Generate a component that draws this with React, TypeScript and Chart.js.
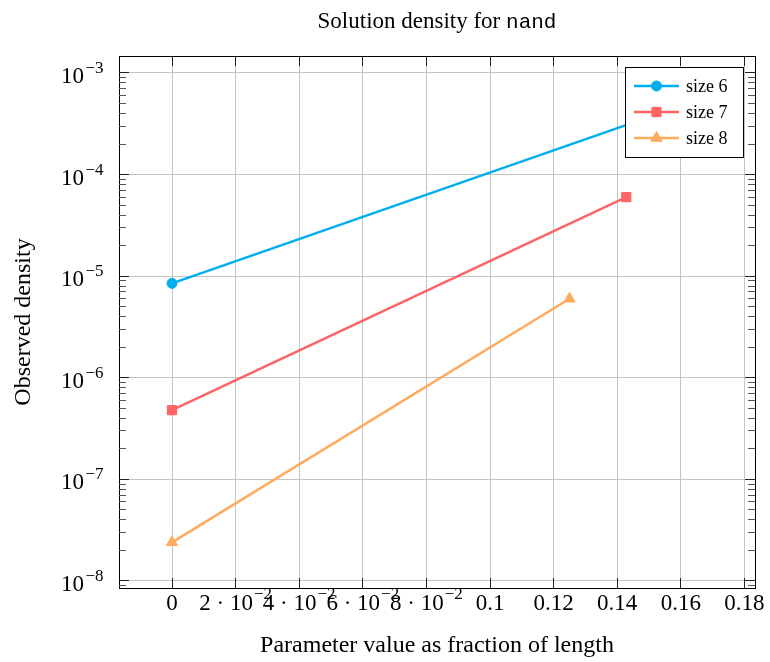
import React, { useEffect, useRef } from 'react';
import { Chart, registerables } from 'chart.js';

Chart.register(...registerables);

// ---------- data ----------
const seriesNames = ['size 6', 'size 7', 'size 8'];
const size6X = [0, 1 / 6];
const size6Y = [8.5e-6, 5.6e-4];
const size7X = [0, 1 / 7];
const size7Y = [4.8e-7, 6.0e-5];
const size8X = [0, 1 / 8];
const size8Y = [2.4e-8, 6.0e-6];

const xTickValues = [0, 0.02, 0.04, 0.06, 0.08, 0.1, 0.12, 0.14, 0.16, 0.18];
const xTickBase = ['0', '2 · 10', '4 · 10', '6 · 10', '8 · 10', '0.1', '0.12', '0.14', '0.16', '0.18'];
const xTickSup = ['', '−2', '−2', '−2', '−2', '', '', '', '', ''];
const yTickValues = [1e-8, 1e-7, 1e-6, 1e-5, 1e-4, 1e-3];
const yTickBase = ['10', '10', '10', '10', '10', '10'];
const yTickSup = ['−8', '−7', '−6', '−5', '−4', '−3'];

const titleText = 'Solution density for ';
const titleMono = 'nand';
const xTitle = 'Parameter value as fraction of length';
const yTitle = 'Observed density';

// ---------- style ----------
const COLORS = ['#00AEEF', '#FF6464', '#FFAA5C'];
const STYLES = ['circle', 'rect', 'triangle'];
const RADII = [5, 6.5, 6.5];
const GRID = '#c4c4c4';
const SERIF = '"Liberation Serif", "Times New Roman", serif';
const MONO = '"Liberation Mono", "DejaVu Sans Mono", monospace';
const X_MIN = -1 / 60;
const X_MAX = 1 / 6 + 1 / 60;
const Y_MIN = Math.pow(10, -8.0689);
const Y_MAX = Math.pow(10, -2.8327);

function align(p: number) {
  return Math.round(p - 0.5) + 0.5;
}

function drawMarker(ctx: CanvasRenderingContext2D, style: string, x: number, y: number, r: number, color: string) {
  ctx.save();
  ctx.fillStyle = color;
  ctx.strokeStyle = color;
  ctx.lineWidth = 1;
  ctx.beginPath();
  if (style === 'circle') {
    ctx.arc(x, y, r, 0, Math.PI * 2);
  } else if (style === 'rect') {
    const s = r * Math.SQRT1_2;
    ctx.rect(x - s, y - s, 2 * s, 2 * s);
  } else {
    for (let i = 0; i < 3; i++) {
      const a = (i * 2 * Math.PI) / 3;
      const px = x + Math.sin(a) * r;
      const py = y - Math.cos(a) * r;
      if (i === 0) ctx.moveTo(px, py);
      else ctx.lineTo(px, py);
    }
    ctx.closePath();
  }
  ctx.fill();
  ctx.stroke();
  ctx.restore();
}

const overlay = {
  id: 'overlay',
  afterDraw(chart: any) {
    const ctx: CanvasRenderingContext2D = chart.ctx;
    const { left, right, top, bottom } = chart.chartArea;
    const xs = chart.scales.x;
    const ys = chart.scales.y;
    ctx.save();

    // frame
    ctx.strokeStyle = '#000';
    ctx.lineWidth = 1;
    ctx.strokeRect(left + 0.5, top + 0.5, right - left, bottom - top);

    const MAJ = 10;
    const MINL = 7;
    const seg = (x1: number, y1: number, x2: number, y2: number) => {
      ctx.beginPath();
      ctx.moveTo(x1, y1);
      ctx.lineTo(x2, y2);
      ctx.stroke();
    };

    // x major ticks
    ctx.strokeStyle = '#222';
    xTickValues.forEach((v) => {
      const px = align(xs.getPixelForValue(v));
      seg(px, bottom, px, bottom - MAJ);
      seg(px, top, px, top + MAJ);
    });
    // y major ticks
    yTickValues.forEach((v) => {
      const py = align(ys.getPixelForValue(v));
      seg(left, py, left + MAJ, py);
      seg(right, py, right - MAJ, py);
    });
    // y minor ticks
    ctx.strokeStyle = '#555';
    for (let n = -9; n <= -3; n++) {
      for (let k = 2; k <= 9; k++) {
        const v = k * Math.pow(10, n);
        if (v <= Y_MIN || v >= Y_MAX) continue;
        const py = align(ys.getPixelForValue(v));
        seg(left, py, left + MINL, py);
        seg(right, py, right - MINL, py);
      }
    }

    // tick labels
    ctx.fillStyle = '#000';
    ctx.textBaseline = 'alphabetic';
    ctx.textAlign = 'left';
    const baseFont = `23px ${SERIF}`;
    const supFont = `17px ${SERIF}`;
    xTickValues.forEach((v, i) => {
      const px = xs.getPixelForValue(v);
      ctx.font = baseFont;
      const bw = ctx.measureText(xTickBase[i]).width;
      ctx.font = supFont;
      const sw = xTickSup[i] ? ctx.measureText(xTickSup[i]).width + 1 : 0;
      const x0 = px - (bw + sw) / 2;
      ctx.font = baseFont;
      ctx.fillText(xTickBase[i], x0, 610);
      if (xTickSup[i]) {
        ctx.font = supFont;
        ctx.fillText(xTickSup[i], x0 + bw + 1, 599);
      }
    });
    yTickValues.forEach((v, i) => {
      const py = ys.getPixelForValue(v);
      ctx.font = baseFont;
      const bw = ctx.measureText(yTickBase[i]).width;
      const x0 = 61;
      ctx.fillText(yTickBase[i], x0, py + 10);
      ctx.font = supFont;
      ctx.fillText(yTickSup[i], x0 + bw + 1.5, py);
    });

    // axis titles
    ctx.font = `24px ${SERIF}`;
    ctx.textAlign = 'center';
    ctx.fillText(xTitle, (left + right) / 2, 652);
    ctx.save();
    ctx.translate(30, (top + bottom) / 2);
    ctx.rotate(-Math.PI / 2);
    ctx.fillText(yTitle, 0, 0);
    ctx.restore();

    // title
    ctx.textAlign = 'left';
    ctx.font = `23px ${SERIF}`;
    const tw1 = ctx.measureText(titleText).width;
    ctx.font = `21px ${MONO}`;
    const tw2 = ctx.measureText(titleMono).width;
    const tx = (left + right) / 2 - (tw1 + tw2) / 2;
    ctx.font = `23px ${SERIF}`;
    ctx.fillText(titleText, tx, 28);
    ctx.font = `21px ${MONO}`;
    ctx.fillText(titleMono, tx + tw1, 28);

    // legend
    const lx = 625, ly = 67, lw = 118, lh = 90;
    ctx.fillStyle = '#fff';
    ctx.fillRect(lx, ly, lw, lh);
    ctx.strokeStyle = '#000';
    ctx.lineWidth = 1;
    ctx.strokeRect(lx + 0.5, ly + 0.5, lw, lh);
    seriesNames.forEach((name, i) => {
      const cy = 86 + i * 26;
      ctx.strokeStyle = COLORS[i];
      ctx.lineWidth = 2.5;
      seg(634, cy, 679, cy);
      drawMarker(ctx, STYLES[i], 656.5, cy, RADII[i], COLORS[i]);
      ctx.fillStyle = '#000';
      ctx.font = `18px ${SERIF}`;
      ctx.textAlign = 'left';
      ctx.fillText(name, 686, cy + 6);
    });

    ctx.restore();
  },
};

function pts(xsArr: number[], ysArr: number[]) {
  return xsArr.map((x, i) => ({ x, y: ysArr[i] }));
}

export default function App() {
  const ref = useRef<HTMLCanvasElement>(null);
  useEffect(() => {
    const canvas = ref.current;
    if (!canvas) return;
    const data = [pts(size6X, size6Y), pts(size7X, size7Y), pts(size8X, size8Y)];
    const chart = new Chart(canvas, {
      type: 'line',
      data: {
        datasets: data.map((d, i) => ({
          label: seriesNames[i],
          data: d,
          borderColor: COLORS[i],
          backgroundColor: COLORS[i],
          borderWidth: 2.5,
          pointStyle: STYLES[i] as any,
          pointRadius: RADII[i],
          pointBorderWidth: 1,
          pointBorderColor: COLORS[i],
          pointBackgroundColor: COLORS[i],
          tension: 0,
          fill: false,
        })),
      },
      options: {
        responsive: false,
        animation: false,
        devicePixelRatio: 1,
        layout: { padding: { top: 56, right: 15, left: 0, bottom: 0 } },
        plugins: {
          legend: { display: false },
          title: { display: false },
          tooltip: { enabled: false },
        },
        scales: {
          x: {
            type: 'linear',
            min: X_MIN,
            max: X_MAX,
            bounds: 'data',
            ticks: { display: false },
            grid: { color: GRID, lineWidth: 1, drawTicks: false },
            border: { display: false },
            afterBuildTicks: (s: any) => {
              s.ticks = xTickValues.map((v) => ({ value: v }));
            },
            afterFit: (s: any) => {
              s.height = 74;
            },
          },
          y: {
            type: 'logarithmic',
            min: Y_MIN,
            max: Y_MAX,
            bounds: 'data',
            ticks: { display: false },
            grid: { color: GRID, lineWidth: 1, drawTicks: false },
            border: { display: false },
            afterBuildTicks: (s: any) => {
              s.ticks = yTickValues.map((v) => ({ value: v }));
            },
            afterFit: (s: any) => {
              s.width = 119;
            },
          },
        },
      } as any,
      plugins: [overlay],
    });
    return () => chart.destroy();
  }, []);
  return (
    <div style={{ position: 'absolute', left: 0, top: 0, width: 770, height: 662, background: '#fff' }}>
      <canvas ref={ref} width={770} height={662} style={{ display: 'block', width: 770, height: 662 }} />
    </div>
  );
}
